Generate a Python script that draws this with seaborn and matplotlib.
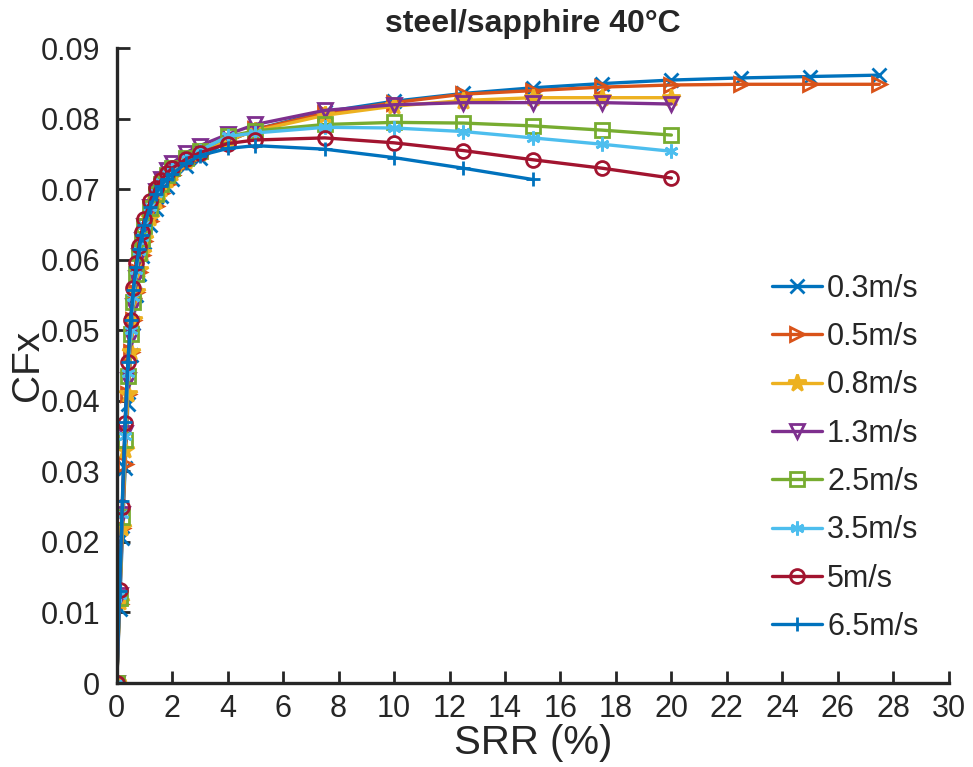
import pandas as pd
import matplotlib.pyplot as plt
import seaborn as sns

# SRR (%) sample points
srr_low = [0, 0.1, 0.2, 0.3, 0.4, 0.5, 0.6, 0.7, 0.8, 0.9, 1.0, 1.2, 1.4, 1.6, 1.8, 2.0, 2.5, 3.0, 4.0]
srr_high = [5, 7.5, 10, 12.5, 15, 17.5, 20, 22.5, 25, 27.5]

speeds = ['0.3m/s', '0.5m/s', '0.8m/s', '1.3m/s', '2.5m/s', '3.5m/s', '5m/s', '6.5m/s']

cf_03 = [0, 0.0105, 0.0205, 0.0305, 0.0395, 0.0465, 0.051, 0.055, 0.058, 0.0605, 0.0625, 0.065, 0.0672,
         0.069, 0.0703, 0.0715, 0.0733, 0.0745, 0.0768,
         0.0785, 0.081, 0.0825, 0.0836, 0.0844, 0.085, 0.0855, 0.0858, 0.086, 0.0862]
cf_05 = [0, 0.0112, 0.022, 0.031, 0.041, 0.047, 0.0515, 0.0555, 0.0583, 0.0607, 0.0627, 0.0655, 0.0677,
         0.0695, 0.0708, 0.072, 0.0737, 0.075, 0.0768,
         0.0785, 0.0808, 0.0823, 0.0835, 0.084, 0.0845, 0.0848, 0.0849, 0.0849, 0.0849]
cf_08 = [0, 0.0115, 0.022, 0.033, 0.041, 0.047, 0.0515, 0.0555, 0.0585, 0.061, 0.063, 0.066, 0.0683,
         0.07, 0.0713, 0.0723, 0.074, 0.0752, 0.077,
         0.0783, 0.0805, 0.0818, 0.0826, 0.083, 0.083, 0.083]
cf_13 = [0, 0.0125, 0.024, 0.0355, 0.043, 0.049, 0.0535, 0.0575, 0.0605, 0.0628, 0.0648, 0.0675, 0.0697,
         0.0714, 0.0727, 0.0737, 0.0752, 0.0762, 0.0778,
         0.0792, 0.0812, 0.082, 0.0823, 0.0823, 0.0823, 0.0821]
cf_25 = [0, 0.012, 0.0235, 0.0345, 0.0435, 0.0495, 0.054, 0.058, 0.061, 0.063, 0.0648, 0.0673, 0.0693,
         0.0708, 0.072, 0.073, 0.0745, 0.0755, 0.0775,
         0.0783, 0.0792, 0.0795, 0.0794, 0.079, 0.0784, 0.0777]
cf_35 = [0, 0.0125, 0.024, 0.035, 0.044, 0.05, 0.0548, 0.0585, 0.0612, 0.0633, 0.065, 0.0675, 0.0695,
         0.071, 0.0722, 0.073, 0.0745, 0.0755, 0.0775,
         0.078, 0.0788, 0.0787, 0.0782, 0.0773, 0.0764, 0.0754]
cf_50 = [0, 0.0132, 0.025, 0.0368, 0.0455, 0.0515, 0.056, 0.0595, 0.062, 0.064, 0.0658, 0.0683, 0.0702,
         0.0713, 0.0723, 0.073, 0.0743, 0.0752, 0.0765,
         0.077, 0.0773, 0.0766, 0.0755, 0.0742, 0.073, 0.0716]
cf_65 = [0, 0.013, 0.0258, 0.037, 0.0455, 0.0515, 0.0558, 0.059, 0.0615, 0.0635, 0.065, 0.0675, 0.0693,
         0.0705, 0.0715, 0.0722, 0.0737, 0.0748, 0.0758,
         0.0762, 0.0757, 0.0745, 0.073, 0.0714]

series = [cf_03, cf_05, cf_08, cf_13, cf_25, cf_35, cf_50, cf_65]
colors = ['#0072BD', '#D95319', '#EDB120', '#7E2F8E', '#77AC30', '#4DBEEE', '#A2142F', '#0072BD']
markers = ['x', '>', '*', 'v', 's', (6, 2, 0), 'o', '+']

sns.set_style('white')
plt.rcParams['font.family'] = ['Liberation Sans', 'DejaVu Sans']

fig = plt.figure(figsize=(9.73, 7.67), dpi=100)
ax = fig.add_axes([0.120, 0.1095, 0.855, 0.8275])

for lab, cf, c, m in zip(speeds, series, colors, markers):
    srr = (srr_low + srr_high)[:len(cf)]
    df = pd.DataFrame({'SRR': srr, 'CFx': cf})
    filled = m == '*'
    sns.lineplot(data=df, x='SRR', y='CFx', ax=ax, color=c, marker=m, label=lab,
                 linewidth=2.4, markersize=13 if filled else 10,
                 markerfacecolor=c if filled else 'none',
                 markeredgecolor=c, markeredgewidth=2)

ax.set_xlim(0, 30)
ax.set_ylim(0, 0.09)
ax.set_xticks(range(0, 31, 2))
ax.set_yticks([i / 100 for i in range(0, 10)])
ax.set_yticklabels(['0'] + [f'{i / 100:.2f}' for i in range(1, 10)])
ax.tick_params(left=True, bottom=True, direction='in', length=9, width=2,
               labelsize=22, colors='#262626')
ax.tick_params(axis='y', pad=12)
ax.tick_params(axis='x', pad=8)
for s in ['top', 'right']:
    ax.spines[s].set_visible(False)
for s in ['left', 'bottom']:
    ax.spines[s].set_linewidth(2.4)
    ax.spines[s].set_color('#262626')

ax.set_xlabel('SRR (%)', fontsize=29, labelpad=0)
ax.set_ylabel('CFx', fontsize=28, labelpad=-4)
ax.set_title('steel/sapphire 40°C', fontsize=23, fontweight='bold', pad=12)

ax.legend(loc='upper left', bbox_to_anchor=(0.773, 0.664), frameon=False, fontsize=22,
          handlelength=1.65, handletextpad=0.15, labelspacing=0.6, borderaxespad=0)

fig.savefig('out.png', dpi=100)
